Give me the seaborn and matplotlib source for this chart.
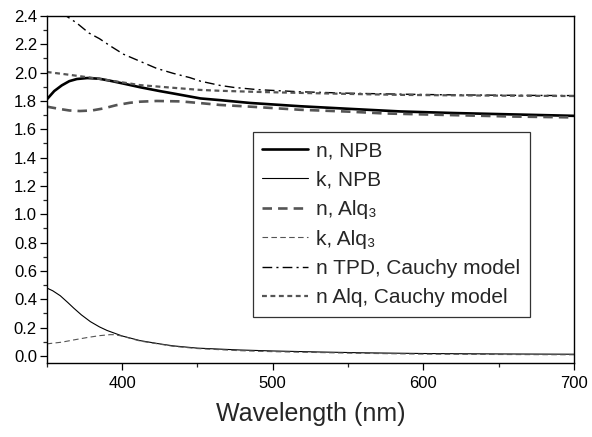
import numpy as np
import pandas as pd
import matplotlib
matplotlib.use("Agg")
import matplotlib.pyplot as plt
from matplotlib.ticker import MultipleLocator
import seaborn as sns

# ---- data ----
wl_n_npb = [350, 355, 360, 365, 370, 377, 385, 392, 400, 412, 425, 434, 452, 465, 485, 518, 550, 585, 620, 660, 700]
n_npb    = [1.81, 1.87, 1.91, 1.94, 1.955, 1.962, 1.957, 1.943, 1.925, 1.897, 1.87, 1.853, 1.818, 1.806, 1.786, 1.763, 1.745, 1.726, 1.715, 1.705, 1.695]

wl_k_npb = [350, 354, 359, 364, 368, 373, 379, 385, 390, 400, 412, 425, 434, 450, 478, 500, 530, 560, 600, 650, 700]
k_npb    = [0.48, 0.46, 0.425, 0.377, 0.337, 0.29, 0.242, 0.205, 0.18, 0.141, 0.108, 0.085, 0.071, 0.055, 0.042, 0.035, 0.028, 0.022, 0.017, 0.014, 0.012]

wl_n_alq = [350, 359, 365, 372, 380, 388, 396, 405, 412, 423, 439, 452, 465, 485, 518, 550, 574, 620, 660, 700]
n_alq    = [1.76, 1.743, 1.733, 1.729, 1.733, 1.748, 1.77, 1.787, 1.795, 1.80, 1.797, 1.785, 1.772, 1.76, 1.738, 1.725, 1.712, 1.70, 1.69, 1.684]

wl_k_alq = [350, 360, 368, 377, 385, 392, 395, 400, 412, 425, 434, 450, 478, 500, 530, 560, 600, 650, 700]
k_alq    = [0.085, 0.097, 0.113, 0.13, 0.143, 0.15, 0.15, 0.14, 0.105, 0.083, 0.068, 0.052, 0.037, 0.03, 0.024, 0.018, 0.013, 0.01, 0.008]

wl_tpd   = [350, 356, 363, 370, 378, 385, 392, 401, 412, 423, 434, 445, 452, 465, 474, 490, 518, 550, 585, 620, 660, 700]
n_tpd    = [2.52, 2.46, 2.40, 2.35, 2.28, 2.24, 2.19, 2.13, 2.08, 2.03, 1.995, 1.965, 1.94, 1.91, 1.896, 1.88, 1.865, 1.855, 1.848, 1.843, 1.84, 1.838]

wl_alqc  = [350, 365, 379, 395, 412, 434, 452, 465, 490, 518, 550, 585, 620, 660, 700]
n_alqc   = [2.005, 1.985, 1.965, 1.94, 1.912, 1.893, 1.878, 1.872, 1.864, 1.857, 1.85, 1.843, 1.84, 1.837, 1.835]

labels = ["n, NPB", "k, NPB", "n, Alq\u2083", "k, Alq\u2083", "n TPD, Cauchy model", "n Alq, Cauchy model"]
x_ticks = [400, 500, 600, 700]

sns.set_theme(style="ticks")
plt.rcParams["font.family"] = ["Liberation Sans", "DejaVu Sans"]

fig = plt.figure(figsize=(5.92, 4.37), dpi=100)
ax = fig.add_axes([46.7/592, 1-363/437, (574-46.7)/592, (363-16)/437])

gray = "#555555"
series = [
    (wl_n_npb, n_npb, dict(color="black", lw=1.9, linestyle="-")),
    (wl_k_npb, k_npb, dict(color="black", lw=0.8, linestyle="-")),
    (wl_n_alq, n_alq, dict(color=gray, lw=1.9, linestyle=(0, (3.6, 2.3)))),
    (wl_k_alq, k_alq, dict(color=gray, lw=0.8, linestyle=(0, (5, 3)))),
    (wl_tpd, n_tpd, dict(color="black", lw=1.0, linestyle=(0, (7, 3, 1.5, 3)))),
    (wl_alqc, n_alqc, dict(color=gray, lw=1.6, linestyle=(0, (2.2, 1.6)))),
]
for (x, y, kw), lab in zip(series, labels):
    sns.lineplot(x=x, y=y, ax=ax, label=lab, **kw)

ax.set_xlim(350, 700)
ax.set_ylim(-0.05, 2.4)
ax.set_xticks(x_ticks)
ax.xaxis.set_minor_locator(MultipleLocator(50))
ax.yaxis.set_major_locator(MultipleLocator(0.2))
ax.yaxis.set_minor_locator(MultipleLocator(0.1))
ax.yaxis.set_major_formatter(matplotlib.ticker.FormatStrFormatter("%.1f"))
ax.tick_params(which="major", direction="out", length=5, width=0.9, labelsize=12, colors="black", pad=2)
ax.tick_params(which="minor", direction="out", length=3, width=0.9)
ax.tick_params(axis="x", pad=4)
for s in ax.spines.values():
    s.set_visible(True)
    s.set_linewidth(1.0)
    s.set_color("black")
ax.set_xlabel("Wavelength (nm)", fontsize=18, labelpad=8)
ax.set_ylabel("")

leg = ax.legend(loc="upper left", bbox_to_anchor=(0.391, 0.666), borderaxespad=0,
                fontsize=15, frameon=True, fancybox=False, edgecolor="black",
                handlelength=2.2, handletextpad=0.4, labelspacing=0.5, borderpad=0.45)
leg.get_frame().set_linewidth(0.9)

fig.savefig("out.png", dpi=100)
